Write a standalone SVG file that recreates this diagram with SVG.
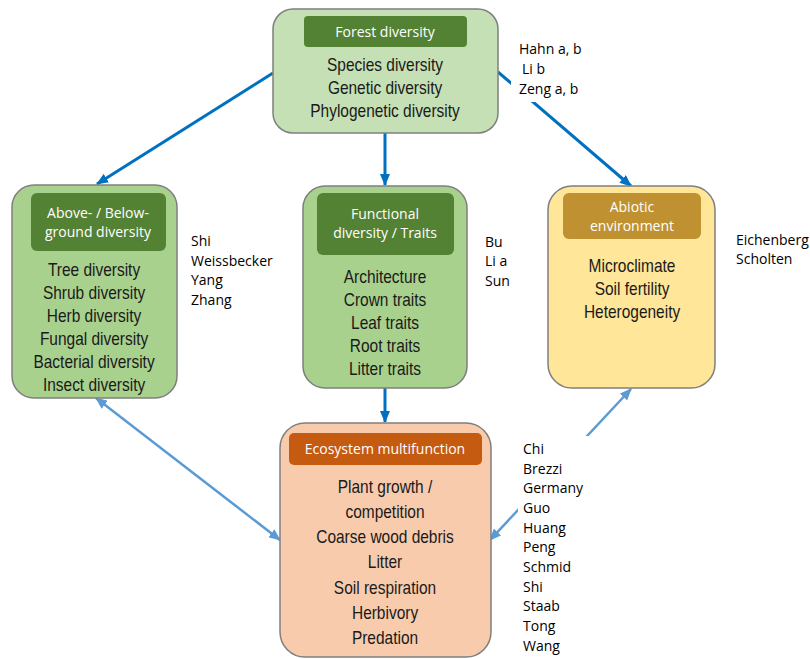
<svg xmlns="http://www.w3.org/2000/svg" width="810" height="659" viewBox="0 0 810 659">
<style>
.box{stroke:#7f7f7f;stroke-width:1.5}
.hd{font-family:"Open Sans","Noto Sans",sans-serif;font-size:14px;fill:#fff;text-anchor:middle}
.bd{font-family:"Liberation Sans",Arial,sans-serif;font-size:18px;fill:#1a1a1a;text-anchor:middle;transform-box:fill-box;transform-origin:center;transform:scaleX(0.86)}
.au{font-family:"Open Sans","Noto Sans",sans-serif;font-size:14px;fill:#000}
.dk{stroke:#0070c0;stroke-width:3;fill:none}
.lt{stroke:#5b9bd5;stroke-width:2.5;fill:none}
</style>
<defs>
<marker id="ad" markerUnits="userSpaceOnUse" markerWidth="12" markerHeight="10" refX="11" refY="5" orient="auto">
<path d="M0,0 L12,5 L0,10 z" fill="#0070c0"/>
</marker>
<marker id="al" markerUnits="userSpaceOnUse" markerWidth="12" markerHeight="10" refX="11" refY="5" orient="auto-start-reverse">
<path d="M0,0 L12,5 L0,10 z" fill="#5b9bd5"/>
</marker>
</defs>
<rect width="810" height="659" fill="#fff"/>
<g id="connectors">
<line class="dk" x1="273" y1="73" x2="97" y2="184" marker-end="url(#ad)"/>
<line class="dk" x1="385" y1="133" x2="385" y2="185" marker-end="url(#ad)"/>
<line class="dk" x1="498" y1="72" x2="631" y2="186" marker-end="url(#ad)"/>
<line class="dk" x1="385" y1="388" x2="385" y2="422" marker-end="url(#ad)"/>
<line class="lt" x1="96" y1="398" x2="280" y2="540" marker-start="url(#al)" marker-end="url(#al)"/>
<line class="lt" x1="631" y1="389" x2="490" y2="540" marker-start="url(#al)" marker-end="url(#al)"/>
</g>
<g id="forest">
<rect class="box" x="273" y="9" width="225" height="124" rx="20" fill="#c5e0b4"/>
<rect x="304" y="16" width="163" height="31" rx="4" fill="#548235"/>
<text class="hd" x="385" y="37">Forest diversity</text>
<text class="bd" x="385" y="71">Species diversity</text>
<text class="bd" x="385" y="94">Genetic diversity</text>
<text class="bd" x="385" y="117">Phylogenetic diversity</text>
</g>
<g id="forest-authors">
<rect x="511" y="38" width="80" height="64" fill="#fff"/>
<text class="au" x="519" y="54">Hahn a, b</text>
<text class="au" x="522" y="74">Li b</text>
<text class="au" x="519" y="94">Zeng a, b</text>
</g>
<g id="above-below">
<rect class="box" x="12" y="185" width="165" height="213" rx="22" fill="#a9d18e"/>
<rect x="31" y="193" width="135" height="58" rx="6" fill="#548235"/>
<text class="hd" x="98" y="218">Above- / Below-</text>
<text class="hd" x="98" y="237">ground diversity</text>
<text class="bd" x="94" y="276">Tree diversity</text>
<text class="bd" x="94" y="299">Shrub diversity</text>
<text class="bd" x="94" y="322">Herb diversity</text>
<text class="bd" x="94" y="345">Fungal diversity</text>
<text class="bd" x="94" y="368">Bacterial diversity</text>
<text class="bd" x="94" y="391">Insect diversity</text>
</g>
<g id="above-below-authors">
<text class="au" x="191" y="246">Shi</text>
<text class="au" x="191" y="266">Weissbecker</text>
<text class="au" x="191" y="285">Yang</text>
<text class="au" x="191" y="305">Zhang</text>
</g>
<g id="functional">
<rect class="box" x="303" y="186" width="164" height="202" rx="22" fill="#a9d18e"/>
<rect x="317" y="193" width="137" height="62" rx="6" fill="#548235"/>
<text class="hd" x="385" y="219">Functional</text>
<text class="hd" x="385" y="238">diversity / Traits</text>
<text class="bd" x="385" y="283">Architecture</text>
<text class="bd" x="385" y="306">Crown traits</text>
<text class="bd" x="385" y="329">Leaf traits</text>
<text class="bd" x="385" y="352">Root traits</text>
<text class="bd" x="385" y="375">Litter traits</text>
</g>
<g id="functional-authors">
<text class="au" x="485" y="247">Bu</text>
<text class="au" x="485" y="266">Li a</text>
<text class="au" x="485" y="286">Sun</text>
</g>
<g id="abiotic">
<rect class="box" x="548" y="186" width="167" height="202" rx="24" fill="#ffe699"/>
<rect x="563" y="193" width="138" height="46" rx="6" fill="#bf9130"/>
<text class="hd" x="632" y="212">Abiotic</text>
<text class="hd" x="632" y="231">environment</text>
<text class="bd" x="632" y="272">Microclimate</text>
<text class="bd" x="632" y="295">Soil fertility</text>
<text class="bd" x="632" y="318">Heterogeneity</text>
</g>
<g id="abiotic-authors">
<text class="au" x="736" y="245">Eichenberg</text>
<text class="au" x="736" y="264">Scholten</text>
</g>
<g id="ecosystem">
<rect class="box" x="280" y="423" width="211" height="234" rx="25" fill="#f8cbad"/>
<rect x="289" y="433" width="193" height="32" rx="5" fill="#c55a11"/>
<text class="hd" x="385" y="454">Ecosystem multifunction</text>
<text class="bd" x="385" y="493">Plant growth /</text>
<text class="bd" x="385" y="518">competition</text>
<text class="bd" x="385" y="543">Coarse wood debris</text>
<text class="bd" x="385" y="568">Litter</text>
<text class="bd" x="385" y="594">Soil respiration</text>
<text class="bd" x="385" y="619">Herbivory</text>
<text class="bd" x="385" y="644">Predation</text>
</g>
<g id="ecosystem-authors">
<rect x="518" y="436" width="72" height="220" fill="#fff"/>
<text class="au" x="523" y="454">Chi</text>
<text class="au" x="523" y="474">Brezzi</text>
<text class="au" x="523" y="493">Germany</text>
<text class="au" x="523" y="513">Guo</text>
<text class="au" x="523" y="533">Huang</text>
<text class="au" x="523" y="552">Peng</text>
<text class="au" x="523" y="572">Schmid</text>
<text class="au" x="523" y="592">Shi</text>
<text class="au" x="523" y="611">Staab</text>
<text class="au" x="523" y="631">Tong</text>
<text class="au" x="523" y="651">Wang</text>
</g>
</svg>
